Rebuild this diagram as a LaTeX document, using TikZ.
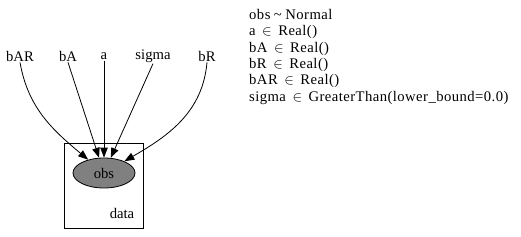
\documentclass[tikz,border=0pt]{standalone}
\usepackage{fontspec}
\setmainfont{Liberation Serif}
\newfontfamily\legendfont[LetterSpace=3]{Liberation Serif}
\usepackage{xcolor}
\usetikzlibrary{shapes.geometric, arrows.meta, positioning}
\definecolor{obsgray}{RGB}{128, 128, 128}
\newcommand{\isin}{\hspace{6.5pt}$\in$\hspace{6.5pt}}
\newcommand{\dist}{\hspace{3.5pt}\textasciitilde\hspace{3.5pt}}

\begin{document}
\begin{tikzpicture}[x=1pt, y=1pt, font=\fontsize{14.67}{16.4}\selectfont,
    param/.style={inner sep=1pt},
    edge/.style={-{Triangle[length=10pt, width=7.5pt]}, line width=0.8pt}]
  \useasboundingbox (0,0) rectangle (521,236);

  % plate
  \draw[line width=0.8pt] (64,8) rectangle (143,93);
  \node (data) at (122,23) {data};
  \node[draw, ellipse, fill=obsgray, minimum width=62pt, minimum height=30pt,
        line width=0.8pt] (obs) at (104,63) {obs};

  % parameters
  \node[param] (bAR) at (20,180) {bAR};
  \node[param] (bA) at (68,180) {bA};
  \node[param] (a) at (104,180) {a};
  \node[param] (sigma) at (153,180) {sigma};
  \node[param] (bR) at (207,180) {bR};

  \draw[edge] (bAR.south) to[out=-80, in=140] (obs);
  \draw[edge] (bA.south) -- (obs);
  \draw[edge] (a.south) -- (obs);
  \draw[edge] (sigma.south) -- (obs);
  \draw[edge] (bR.south) to[out=-95, in=30] (obs);

  % distributions
  \node[anchor=north west, align=left, inner sep=0pt,
        font=\fontsize{14.67}{16.4}\legendfont] (legend) at (249,227) {
    obs\dist Normal\\
    a\isin Real()\\
    bA\isin Real()\\
    bR\isin Real()\\
    bAR\isin Real()\\
    sigma\isin GreaterThan(lower\_bound=0.0)};
\end{tikzpicture}
\end{document}
